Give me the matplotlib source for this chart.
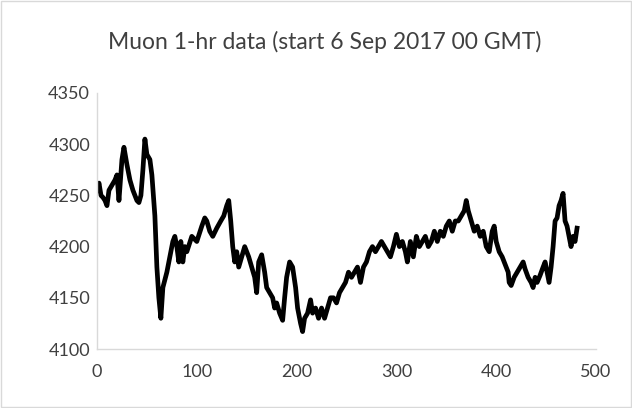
import matplotlib.pyplot as plt
from matplotlib.patches import Rectangle

# hourly muon counts (hours since 6 Sep 2017 00 GMT)
hours = [0, 2, 4, 6, 8, 10, 12, 15, 18, 20, 22, 25, 27, 30, 33, 36, 40, 42, 44,
         46, 48, 50, 53, 55, 58, 60, 62, 64, 66, 70, 74, 76, 78, 80, 82, 84, 86,
         88, 90, 95, 100, 105, 108, 110, 113, 116, 120, 124, 127, 130, 132, 134,
         136, 138, 140, 142, 145, 148, 150, 152, 155, 158, 160, 162, 165, 168,
         170, 173, 176, 178, 180, 183, 186, 188, 190, 193, 196, 199, 201, 204,
         206, 208, 211, 214, 216, 219, 222, 225, 228, 231, 234, 237, 240, 243,
         246, 249, 252, 255, 258, 261, 264, 267, 270, 273, 276, 279, 282, 285,
         288, 291, 294, 297, 300, 303, 306, 309, 311, 314, 317, 320, 323, 326,
         329, 332, 335, 338, 341, 344, 347, 350, 353, 356, 359, 362, 365, 368,
         370, 372, 375, 378, 381, 384, 387, 390, 393, 396, 398, 400, 403, 406,
         408, 410, 412, 413, 415, 418, 421, 424, 427, 429, 432, 435, 437, 439,
         441, 444, 447, 449, 451, 453, 455, 457, 459, 461, 463, 465, 467, 469,
         471, 473, 475, 477, 479, 481]
counts = [4255, 4262, 4250, 4248, 4245, 4240, 4255, 4260, 4265, 4270, 4245, 4285,
          4297, 4280, 4265, 4255, 4245, 4243, 4250, 4275, 4305, 4290, 4285, 4270,
          4230, 4180, 4150, 4130, 4160, 4175, 4195, 4205, 4210, 4200, 4185, 4205,
          4185, 4200, 4195, 4210, 4205, 4220, 4228, 4225, 4215, 4210, 4218, 4225,
          4230, 4240, 4245, 4225, 4200, 4185, 4195, 4180, 4190, 4200, 4195, 4190,
          4180, 4170, 4155, 4185, 4192, 4175, 4160, 4155, 4150, 4140, 4145, 4135,
          4128, 4150, 4170, 4185, 4180, 4160, 4140, 4125, 4117, 4130, 4135, 4148,
          4135, 4140, 4130, 4140, 4130, 4140, 4150, 4150, 4145, 4155, 4160, 4165,
          4175, 4170, 4175, 4180, 4165, 4180, 4185, 4195, 4200, 4195, 4200, 4205,
          4200, 4195, 4190, 4200, 4212, 4200, 4205, 4195, 4185, 4205, 4190, 4210,
          4200, 4205, 4210, 4200, 4205, 4215, 4205, 4215, 4210, 4220, 4225, 4215,
          4225, 4225, 4230, 4235, 4245, 4235, 4225, 4215, 4220, 4210, 4215, 4200,
          4195, 4215, 4220, 4205, 4195, 4190, 4185, 4180, 4175, 4165, 4162, 4170,
          4175, 4180, 4185, 4178, 4170, 4165, 4160, 4170, 4165, 4172, 4180, 4185,
          4175, 4165, 4180, 4200, 4225, 4228, 4240, 4245, 4252, 4225, 4220, 4210,
          4200, 4210, 4205, 4218]

x_ticks = [0, 100, 200, 300, 400, 500]
y_ticks = [4100, 4150, 4200, 4250, 4300, 4350]

plt.rcParams["font.family"] = ["Lato", "DejaVu Sans"]
text_color = "#404040"
grid_color = "#d9d9d9"

fig = plt.figure(figsize=(6.32, 4.08), dpi=100)
ax = fig.add_axes([97 / 632, 1 - 349 / 408, 499 / 632, 256 / 408])

ax.plot(hours, counts, color="black", linewidth=3.4, solid_joinstyle="round")

ax.set_xlim(0, 500)
ax.set_ylim(4100, 4350)
ax.set_xticks(x_ticks)
ax.set_yticks(y_ticks)
ax.tick_params(length=0, labelsize=13, labelcolor=text_color)
ax.tick_params(axis="x", pad=11)
ax.tick_params(axis="y", pad=5)

for side in ["top", "right"]:
    ax.spines[side].set_visible(False)
for side in ["left", "bottom"]:
    ax.spines[side].set_color(grid_color)
    ax.spines[side].set_linewidth(1.0)

fig.text(0.514, 1 - 42 / 408, "Muon 1-hr data (start 6 Sep 2017 00 GMT)",
         ha="center", va="center", fontsize=16.5, color=text_color)

# light border round the chart area
fig.patches.append(Rectangle((0.002, 0.002), 0.996, 0.996, transform=fig.transFigure,
                             fill=False, edgecolor=grid_color, linewidth=1.0))

fig.savefig("out.png", dpi=100)
